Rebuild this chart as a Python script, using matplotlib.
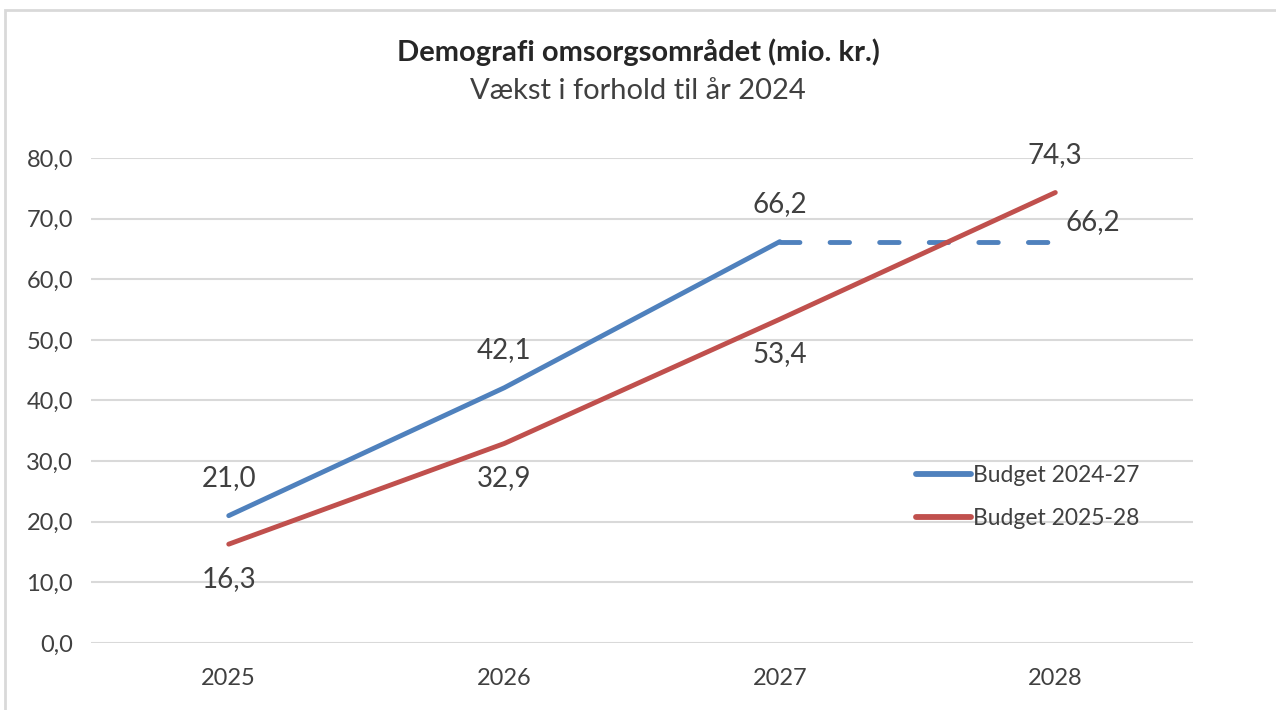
import matplotlib
matplotlib.use("Agg")
import matplotlib.pyplot as plt
from matplotlib.patches import Rectangle

plt.rcParams['font.family'] = ['Lato', 'DejaVu Sans']

years = ['2025', '2026', '2027', '2028']
budget_24_27 = [21.0, 42.1, 66.2, 66.2]
budget_25_28 = [16.3, 32.9, 53.4, 74.3]

blue = '#4F81BD'
red = '#C0504D'
txt = '#404040'
grid = '#D9D9D9'


def fmt(v):
    return f'{v:.1f}'.replace('.', ',')


fig = plt.figure(figsize=(12.76, 7.10), dpi=100)
ax = fig.add_axes([0.0713, 0.0944, 0.8637, 0.6831])

x = list(range(len(years)))

# blue: solid up to 2027, dashed continuation to 2028
ax.plot(x[:3], budget_24_27[:3], color=blue, lw=3.5, solid_capstyle='round',
        solid_joinstyle='round', label='Budget 2024-27', zorder=3)
ax.plot(x[2:], budget_24_27[2:], color=blue, lw=3.5, ls=(0, (4.0, 6.2)),
        dash_capstyle='round', zorder=3)
ax.plot(x, budget_25_28, color=red, lw=3.5, solid_capstyle='round',
        solid_joinstyle='round', label='Budget 2025-28', zorder=3)

# data labels (blue above, red below, last points tweaked)
blue_off = [(0, 27), (0, 27), (0, 27), (27, 14)]
red_off = [(0, -25), (0, -25), (0, -25), (0, 27)]
for i, v in enumerate(budget_24_27):
    ax.annotate(fmt(v), (x[i], v), xytext=blue_off[i], textcoords='offset points',
                ha='center', va='center', fontsize=20, color=txt)
for i, v in enumerate(budget_25_28):
    ax.annotate(fmt(v), (x[i], v), xytext=red_off[i], textcoords='offset points',
                ha='center', va='center', fontsize=20, color=txt)

ax.set_xlim(-0.5, 3.5)
ax.set_ylim(0, 80)
ax.set_yticks(range(0, 81, 10))
ax.set_yticklabels([fmt(t) for t in range(0, 81, 10)])
ax.set_xticks(x)
ax.set_xticklabels(years)
ax.tick_params(axis='both', length=0, labelsize=17, labelcolor=txt)
ax.tick_params(axis='y', pad=13)
ax.tick_params(axis='x', pad=18)
ax.grid(axis='y', color=grid, lw=1.5)
ax.set_axisbelow(True)
for s in ax.spines.values():
    s.set_visible(False)

leg = ax.legend(loc='upper left', bbox_to_anchor=(0.73, 0.41), frameon=False,
                fontsize=16.5, handlelength=2.4, handletextpad=0.1, labelspacing=0.95,
                labelcolor=txt)
for h in leg.get_lines():
    h.set_linewidth(4.2)

fig.text(0.5, 0.926, 'Demografi omsorgsområdet (mio. kr.)', ha='center', va='center',
         fontsize=21, fontweight='bold', color='#262626')
fig.text(0.5, 0.872, 'Vækst i forhold til år 2024', ha='center', va='center',
         fontsize=21, color=txt)

fig.add_artist(Rectangle((5 / 1276, -0.1), 1.2, 1.1 - 10 / 710, transform=fig.transFigure,
                         fill=False, edgecolor=grid, lw=2))

fig.savefig('out.png', dpi=100)
